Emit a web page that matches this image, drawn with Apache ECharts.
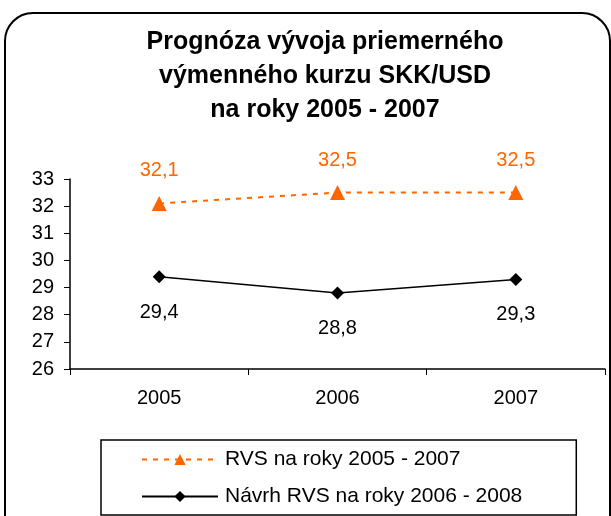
<!DOCTYPE html>
<html lang="sk">
<head>
    <meta charset="UTF-8">
    <title>Prognóza vývoja kurzu SKK/USD</title>
    <script src="https://cdn.jsdelivr.net/npm/echarts@6"></script>
    <style>
        body { margin: 0; background: #ffffff; }
    </style>
</head>
<body>
    <div id="chart" style="width: 611px; height: 516px;"></div>

    <script>
        // data
        const years = ['2005', '2006', '2007'];
        const rvs2005 = [32.1, 32.5, 32.5];
        const navrh2006 = [29.4, 28.8, 29.3];
        const seriesNames = ['RVS na roky 2005 - 2007', 'Návrh RVS na roky 2006 - 2008'];

        const font = '"Liberation Sans", Arial, sans-serif';
        const fmt = p => String(p.value).replace('.', ',');

        const chart = echarts.init(document.getElementById('chart'));

        chart.setOption({
            animation: false,
            textStyle: { fontFamily: font },
            title: {
                text: 'Prognóza vývoja priemerného\nvýmenného kurzu SKK/USD\nna roky 2005 - 2007',
                left: 320,
                textAlign: 'center',
                top: 20,
                textStyle: { fontSize: 25, fontWeight: 'bold', color: '#000', lineHeight: 34, fontFamily: font }
            },
            graphic: [{
                type: 'rect',
                shape: { x: 5, y: 13, width: 605, height: 540, r: 28 },
                style: { fill: 'none', stroke: '#000', lineWidth: 2 },
                silent: true
            }],
            legend: {
                orient: 'vertical',
                left: 101,
                top: 440,
                itemWidth: 76,
                itemHeight: 14,
                itemGap: 16,
                padding: [9, 54, 8, 40],
                borderColor: '#000',
                borderWidth: 1.5,
                data: seriesNames,
                textStyle: { fontSize: 21, color: '#000', fontFamily: font, padding: [0, 0, 0, 2] }
            },
            grid: { left: 70, right: 6, top: 179, bottom: 147 },
            xAxis: {
                type: 'category',
                data: years,
                boundaryGap: true,
                axisLine: { lineStyle: { color: '#000', width: 1.5 } },
                axisTick: { show: true, length: 6, lineStyle: { color: '#000' } },
                axisLabel: { color: '#000', fontSize: 20, margin: 19 }
            },
            yAxis: {
                type: 'value',
                min: 26,
                max: 33,
                interval: 1,
                splitLine: { show: false },
                axisLine: { show: true, lineStyle: { color: '#000', width: 1.5 } },
                axisTick: { show: true, length: 6, lineStyle: { color: '#000' } },
                axisLabel: { color: '#000', fontSize: 20, margin: 16 }
            },
            series: [{
                name: seriesNames[0],
                type: 'line',
                data: rvs2005,
                symbol: 'triangle',
                symbolSize: 15,
                color: '#FF6600',
                lineStyle: { color: '#FF6600', width: 2, type: [5, 6] },
                itemStyle: { color: '#FF6600' },
                label: {
                    show: true, position: 'top', distance: 15,
                    color: '#FF6600', fontSize: 20, formatter: fmt
                }
            }, {
                name: seriesNames[1],
                type: 'line',
                data: navrh2006,
                symbol: 'diamond',
                symbolSize: 13,
                color: '#000',
                lineStyle: { color: '#000', width: 1.5 },
                itemStyle: { color: '#000' },
                label: {
                    show: true, position: 'bottom', distance: 19,
                    color: '#000', fontSize: 20, formatter: fmt
                }
            }]
        });
    </script>
</body>
</html>
